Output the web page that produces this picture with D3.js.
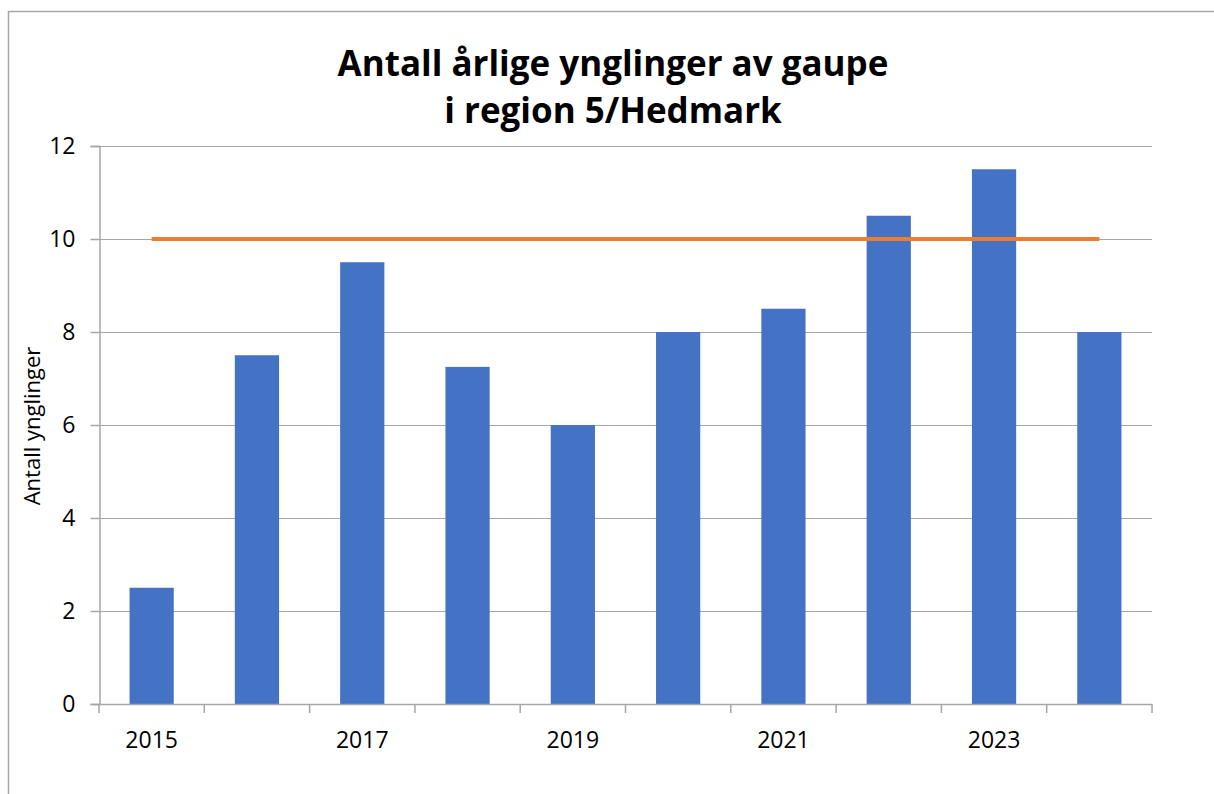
<!DOCTYPE html>
<html><head><meta charset="utf-8">
<script src="https://cdn.jsdelivr.net/npm/d3@7"></script>
<style>body{margin:0;background:#fff}svg{display:block}</style>
</head><body>
<svg id="c" width="1214" height="794"></svg>
<script>
const years = ["2015","2016","2017","2018","2019","2020","2021","2022","2023","2024"];
const values = [2.5, 7.5, 9.5, 7.25, 6, 8, 8.5, 10.5, 11.5, 8];
const target = [10,10,10,10,10,10,10,10,10,10];
const yTicks = [0,2,4,6,8,10,12];
const xLabels = ["2015","2017","2019","2021","2023"];
const titleLines = ["Antall årlige ynglinger av gaupe","i region 5/Hedmark"];
const yTitle = "Antall ynglinger";

const svg = d3.select("#c");
const font = "'Open Sans', sans-serif";
const m = {l:99, r:1152, t:146, b:704};

// outer border
svg.append("path").attr("d","M8.5,794 V11.5 H1214").attr("fill","none").attr("stroke","#a6a6a6").attr("stroke-width",1.5);

const x = d3.scaleBand().domain(years).range([m.l,m.r]).paddingInner(0.58).paddingOuter(0.29);
const xb = d3.scaleBand().domain(years).range([m.l,m.r]);
const y = d3.scaleLinear().domain([0,12]).range([m.b,m.t]);

// gridlines
svg.append("g").selectAll("line").data(yTicks.filter(d=>d>0)).join("line")
  .attr("x1",m.l).attr("x2",m.r).attr("y1",d=>y(d)+0.5).attr("y2",d=>y(d)+0.5)
  .attr("stroke","#a6a6a6").attr("stroke-width",1);

// y axis
const yAxis = svg.append("g").attr("transform",`translate(${m.l+0.5},0)`)
  .call(d3.axisLeft(y).tickValues(yTicks).tickSize(9).tickPadding(15).tickFormat(d3.format("d")));
yAxis.select(".domain").attr("stroke","#a6a6a6").attr("stroke-width",1.5);
yAxis.selectAll(".tick line").attr("stroke","#a6a6a6").attr("stroke-width",1.5);
yAxis.selectAll("text").attr("font-family",font).attr("font-size",23).attr("fill","#000");

// bars
svg.append("g").selectAll("rect").data(values).join("rect")
  .attr("x",(d,i)=>x(years[i])).attr("width",x.bandwidth())
  .attr("y",d=>y(d)).attr("height",d=>y(0)-y(d))
  .attr("fill","#4472c4");

// x axis
const xAxisG = svg.append("g").attr("transform",`translate(0,${m.b})`);
xAxisG.append("line").attr("x1",m.l).attr("x2",m.r).attr("y1",0.5).attr("y2",0.5).attr("stroke","#a6a6a6").attr("stroke-width",1.5);
const bounds = years.map(d=>xb(d)).concat([m.r]);
xAxisG.selectAll("line.tk").data(bounds).join("line").attr("class","tk")
  .attr("x1",d=>d).attr("x2",d=>d).attr("y1",0).attr("y2",9)
  .attr("stroke","#a6a6a6").attr("stroke-width",1.5);
xAxisG.selectAll("text").data(xLabels).join("text")
  .attr("x",d=>x(d)+x.bandwidth()/2).attr("y",44)
  .attr("text-anchor","middle").attr("font-family",font).attr("font-size",23).attr("fill","#000")
  .text(d=>d);

// target line
const line = d3.line().x((d,i)=>x(years[i])+x.bandwidth()/2).y(d=>y(d));
svg.append("path").datum(target).attr("d",line).attr("fill","none")
  .attr("stroke","#ed7d31").attr("stroke-width",4);

// y title
svg.append("text").attr("transform","translate(40,426) rotate(-90)")
  .attr("text-anchor","middle").attr("font-family",font).attr("font-size",22).attr("fill","#000")
  .text(yTitle);

// title
const tl = svg.append("g");
const tys = [76,123];
titleLines.forEach((t,i)=>{
  tl.append("text").attr("x",613).attr("y",tys[i]).attr("text-anchor","middle")
    .attr("font-family",font).attr("font-weight","bold").attr("font-size",40).attr("fill","#000").text(t);
});
const w0 = tl.select("text").node().getComputedTextLength();
tl.selectAll("text").attr("font-size",Math.min(40*551/w0,42));
</script>
</body></html>
